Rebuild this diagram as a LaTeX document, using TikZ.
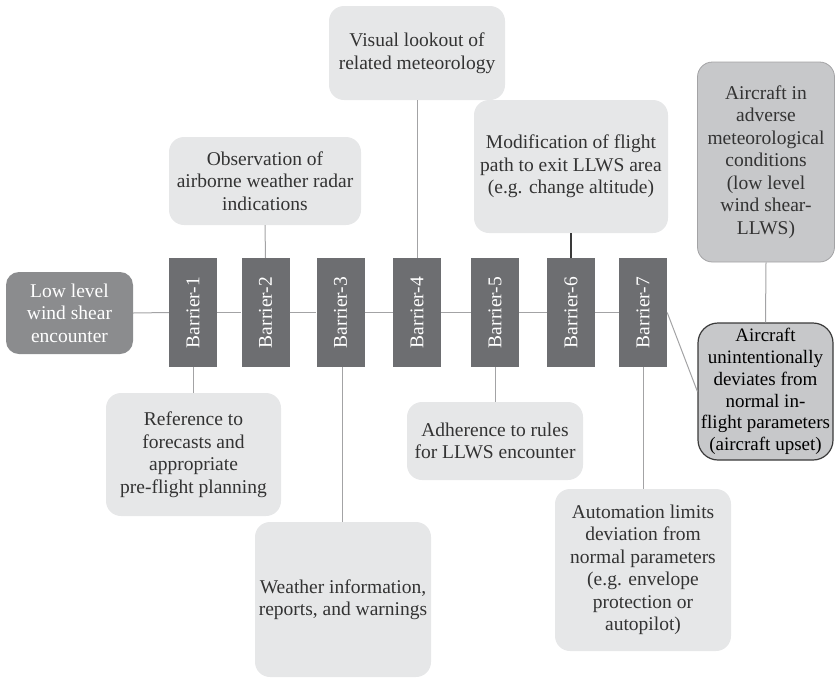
\documentclass[tikz,border=0pt]{standalone}
\usepackage{fontspec}
\setmainfont{Liberation Serif}
\usetikzlibrary{calc}
\definecolor{barfill}{HTML}{6D6E71}
\definecolor{hazfill}{HTML}{8B8C8E}
\definecolor{topfill}{HTML}{C7C8CA}
\definecolor{ctrlfill}{HTML}{E6E7E8}
\definecolor{linkgray}{HTML}{A3A3A5}
\definecolor{inktext}{HTML}{333333}
\definecolor{darkline}{HTML}{3A3A3A}
\tikzset{
  txt/.style={font=\fontsize{19.5}{22.5}\selectfont, align=center, inner sep=0pt},
  barrier/.style={txt, rectangle, fill=barfill, text=white,
    minimum width=48, minimum height=109},
  control/.style={txt, rectangle, rounded corners=15, fill=ctrlfill, text=inktext},
  hazard/.style={txt, rectangle, rounded corners=13, fill=hazfill, text=white,
    minimum width=127, minimum height=82},
  topevent/.style={txt, rectangle, rounded corners=15, fill=topfill, text=inktext,
    draw=linkgray, line width=0.8},
  consequence/.style={txt, rectangle, rounded corners=20, fill=topfill, text=black,
    draw=darkline, line width=1.2, font=\fontsize{19}{21.8}\selectfont},
  link/.style={draw=linkgray, line width=1},
  darklink/.style={draw=darkline, line width=1.2},
}
\begin{document}
\begin{tikzpicture}[x=1pt, y=-1pt]
\useasboundingbox (0,0) rectangle (835,678);

% hazard on the left
\node[hazard] (low) at (69.5,313) {Low level\\wind shear\\encounter};

% barrier column
\foreach \i/\x in {1/193,2/265.5,3/340.5,4/417,5/495,6/571,7/643}
  \node[barrier] (b\i) at (\x,312.5) {\rotatebox{90}{Barrier-\i}};

% controls above the barriers
\node[control, minimum width=176, minimum height=94] (visual) at (417,53)
  {Visual lookout of\\related meteorology};
\node[control, minimum width=192, minimum height=88] (obs) at (265,181)
  {Observation of\\airborne weather radar\\indications};
\node[control, minimum width=194, minimum height=133] (mod) at (571,166.5)
  {Modification of flight\\path to exit LLWS area\\(e.g. change altitude)};

% controls below the barriers
\node[control, minimum width=175, minimum height=123] (ref) at (193.5,454.5)
  {Reference to\\forecasts and\\appropriate\\pre-flight planning};
\node[control, minimum width=176, minimum height=155] (weather) at (343,599.5)
  {Weather information,\\reports, and warnings};
\node[control, minimum width=176, minimum height=78] (adh) at (495,441)
  {Adherence to rules\\for LLWS encounter};
\node[control, minimum width=176, minimum height=162] (auto) at (643,570)
  {Automation limits\\deviation from\\normal parameters\\(e.g. envelope\\protection or\\autopilot)};

% top event and its consequence on the right
\node[topevent, minimum width=137, minimum height=200] (adverse) at (766,162)
  {Aircraft in\\adverse\\meteorological\\conditions\\(low level\\wind shear-\\LLWS)};
\node[consequence, minimum width=135, minimum height=137] (upset) at (765.5,391.5)
  {Aircraft\\unintentionally\\deviates from\\normal in-\\flight parameters\\(aircraft upset)};

% spine through the barriers
\draw[link] (low.east) -- (b1.west);
\foreach \a/\b in {1/2,2/3,3/4,4/5,5/6,6/7}
  \draw[link] (b\a.east) -- (b\b.west);
\draw[link] (b7.east) -- (upset.west);
\draw[link] (adverse.south) -- (upset.north);

% controls attached to barriers
\draw[link] (b1.south) -- (b1.south |- ref.north);
\draw[link] (obs.south) -- (b2.north);
\draw[link] ($(b3.south)+(1.5,0)$) -- ($(b3.south |- weather.north)+(1.5,0)$);
\draw[link] (visual.south) -- (b4.north);
\draw[link] (b5.south) -- (b5.south |- adh.north);
\draw[darklink] (mod.south) -- (b6.north);
\draw[link] (b7.south) -- (b7.south |- auto.north);
\end{tikzpicture}
\end{document}
